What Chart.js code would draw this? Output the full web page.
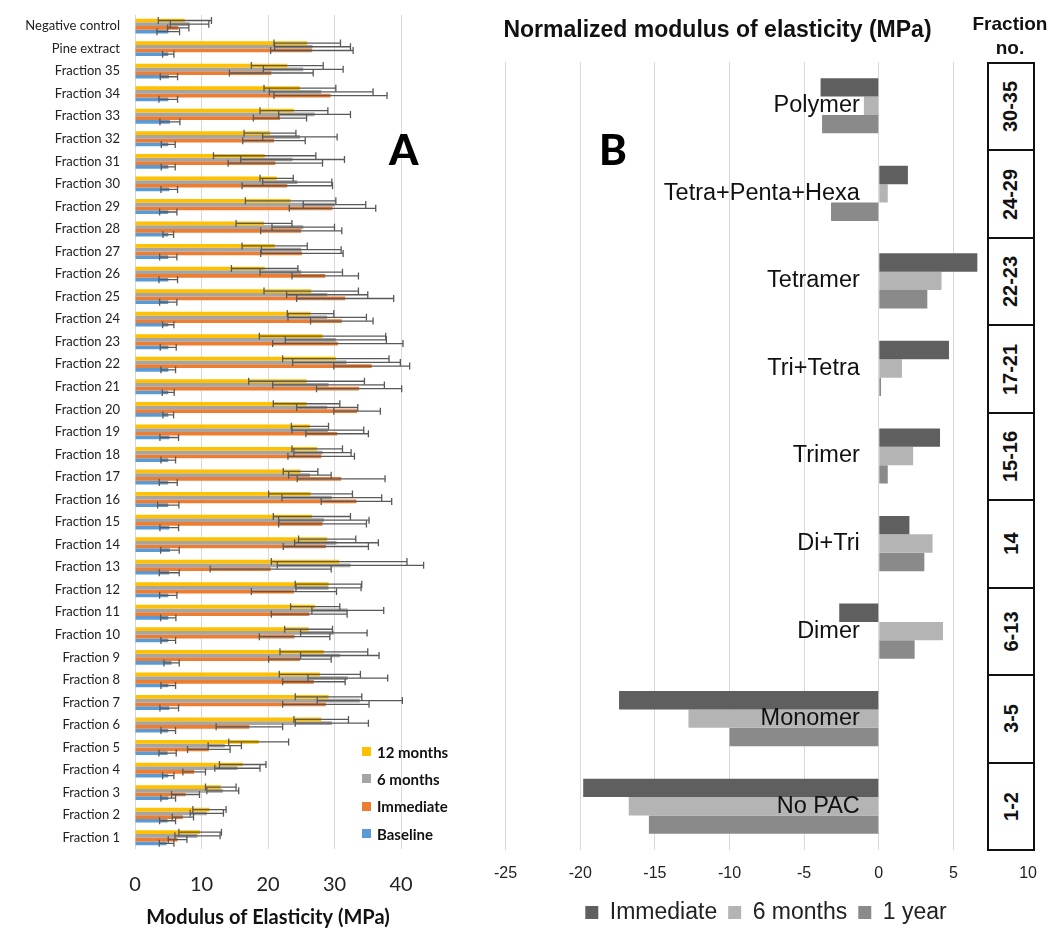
<!DOCTYPE html>
<html>
<head>
<meta charset="utf-8">
<script src="https://cdn.jsdelivr.net/npm/chart.js@4.4.1/dist/chart.umd.min.js"></script>
<style>
  body { margin: 0; width: 1051px; height: 934px; position: relative; background: #fff; overflow: hidden; }
  .box { position: absolute; }
  #wrapA { left: 0; top: 0; width: 480px; height: 934px; }
  #wrapB { left: 480px; top: 0; width: 571px; height: 934px; }
  .panel-letter { position: absolute; font-family: Lato, sans-serif; font-weight: 900; font-size: 42px; color: #000; line-height: 1; }
  #legendA { position: absolute; left: 362px; top: 738px; font-family: Lato, sans-serif; font-weight: 700; font-size: 15px; color: #111; }
  #legendA div { height: 27.3px; display: flex; align-items: center; }
  #legendA span.sw { display: inline-block; width: 9px; height: 9px; margin-right: 6px; }
  #titleB { position: absolute; left: 480px; width: 475px; top: 16px; text-align: center; font-family: "Liberation Sans", Arial, sans-serif; font-weight: 700; font-size: 23px; color: #111; }
  #fracHead { position: absolute; left: 962px; width: 96px; top: 12px; text-align: center; font-family: "Liberation Sans", Arial, sans-serif; font-weight: 700; font-size: 19px; line-height: 24px; color: #111; }
  #fracTable { position: absolute; left: 987px; top: 62px; width: 44px; height: 785px; border: 2px solid #111; background: #fff; display: flex; flex-direction: column; }
  #fracTable div { flex: 1; border-bottom: 2px solid #111; display: flex; align-items: center; justify-content: center; font-family: "Liberation Sans", Arial, sans-serif; font-weight: 700; font-size: 20px; color: #111; }
  #fracTable div:last-child { border-bottom: none; }
  #fracTable span { transform: rotate(-90deg); white-space: nowrap; }
</style>
</head>
<body>
<div class="box" id="wrapA"><canvas id="chartA"></canvas></div>
<div class="box" id="wrapB"><canvas id="chartB"></canvas></div>
<div class="panel-letter" style="left:389px; top:128px;">A</div>
<div class="panel-letter" style="left:599px; top:128px;">B</div>
<div id="legendA"></div>
<div id="titleB">Normalized modulus of elasticity (MPa)</div>
<div id="fracHead">Fraction<br>no.</div>
<div id="fracTable"></div>
<script>
// Panel A: modulus of elasticity per fraction (MPa), with SD
const categoriesA = ['Negative control', 'Pine extract',
  'Fraction 35', 'Fraction 34', 'Fraction 33', 'Fraction 32', 'Fraction 31', 'Fraction 30',
  'Fraction 29', 'Fraction 28', 'Fraction 27', 'Fraction 26', 'Fraction 25', 'Fraction 24',
  'Fraction 23', 'Fraction 22', 'Fraction 21', 'Fraction 20', 'Fraction 19', 'Fraction 18',
  'Fraction 17', 'Fraction 16', 'Fraction 15', 'Fraction 14', 'Fraction 13', 'Fraction 12',
  'Fraction 11', 'Fraction 10', 'Fraction 9', 'Fraction 8', 'Fraction 7', 'Fraction 6',
  'Fraction 5', 'Fraction 4', 'Fraction 3', 'Fraction 2', 'Fraction 1'];

const months12 = [7.5, 25.9, 22.9, 24.8, 23.9, 20.3, 19.5, 21.3, 23.4, 19.4, 21.0, 19.5, 26.5, 26.4,
  28.2, 30.2, 25.8, 25.8, 26.3, 27.4, 24.9, 26.4, 26.6, 28.9, 30.7, 29.1, 27.1, 26.1, 28.4, 27.8,
  29.1, 28.0, 18.6, 16.2, 12.9, 11.2, 9.8];
const months12Err = [4.0, 5.0, 5.4, 5.4, 5.1, 3.9, 7.7, 2.5, 6.8, 4.2, 4.9, 5.0, 7.1, 3.5,
  9.5, 8.0, 8.7, 5.0, 2.8, 3.8, 2.6, 6.3, 5.8, 4.3, 10.2, 5.0, 3.7, 3.6, 6.6, 6.1,
  5.0, 4.1, 4.5, 3.5, 2.3, 2.5, 3.2];

const months6 = [8.2, 26.7, 25.3, 28.0, 27.0, 24.8, 23.7, 24.4, 30.0, 25.3, 25.0, 25.0, 28.9, 28.9,
  30.2, 31.8, 29.1, 28.9, 29.0, 28.2, 26.3, 29.6, 28.4, 30.3, 32.4, 29.1, 32.0, 29.9, 30.8, 32.0,
  33.8, 29.6, 13.5, 15.4, 13.2, 10.8, 9.4];
const months6Err = [2.9, 5.7, 6.0, 7.8, 5.4, 5.6, 7.8, 5.2, 4.7, 4.7, 6.0, 6.2, 6.1, 5.9,
  7.6, 8.1, 8.4, 4.6, 5.4, 4.3, 3.2, 7.5, 6.8, 6.3, 11.0, 4.9, 5.4, 5.0, 5.9, 6.0,
  6.4, 5.5, 2.5, 3.4, 2.4, 2.5, 3.4];

const immediate = [6.5, 26.6, 20.5, 29.4, 21.8, 20.9, 21.1, 22.9, 29.7, 25.0, 25.1, 28.6, 31.6, 31.1,
  30.5, 35.6, 33.7, 33.4, 30.4, 28.0, 31.0, 33.3, 28.2, 28.7, 20.4, 23.9, 26.2, 24.0, 24.8, 26.9,
  28.7, 17.2, 11.1, 8.9, 7.6, 7.2, 6.4];
const immediateErr = [1.6, 6.2, 6.3, 8.5, 4.0, 4.7, 7.1, 6.8, 6.5, 6.1, 6.2, 5.0, 7.3, 4.7,
  9.8, 5.7, 6.4, 3.5, 4.7, 5.0, 6.6, 5.3, 6.6, 6.4, 9.1, 6.4, 5.7, 5.3, 4.7, 4.7,
  6.5, 5.0, 3.2, 1.7, 2.1, 1.6, 1.4];

const baseline = [5.0, 5.0, 5.1, 5.0, 5.25, 5.0, 5.0, 5.15, 5.0, 5.0, 5.0, 5.0, 5.0, 5.0,
  5.0, 5.0, 5.0, 5.0, 5.15, 5.0, 5.0, 5.0, 5.15, 5.25, 5.15, 5.0, 5.0, 5.0, 5.5, 5.0,
  5.15, 5.0, 4.9, 5.0, 5.0, 4.9, 4.75];
const baselineErr = [1.7, 0.85, 1.3, 1.4, 1.5, 1.05, 1.05, 1.25, 1.3, 0.8, 1.3, 1.4, 1.3, 0.85,
  1.2, 1.1, 0.9, 0.8, 1.4, 1.1, 1.35, 1.6, 1.4, 1.4, 1.5, 1.3, 1.15, 1.1, 1.15, 1.1,
  1.4, 1.1, 1.3, 0.85, 1.1, 1.2, 1.1];

const xTicksA = [0, 10, 20, 30, 40];

// Panel B: normalized modulus by PAC group
const categoriesB = ['Polymer', 'Tetra+Penta+Hexa', 'Tetramer', 'Tri+Tetra', 'Trimer', 'Di+Tri', 'Dimer', 'Monomer', 'No PAC'];
const immediateB = [-3.9, 1.95, 6.6, 4.7, 4.1, 2.05, -2.65, -17.4, -19.8];
const sixMonthsB = [-1.0, 0.6, 4.2, 1.55, 2.3, 3.6, 4.3, -12.75, -16.75];
const oneYearB = [-3.8, -3.2, 3.25, 0.15, 0.6, 3.05, 2.4, -10.0, -15.4];
const fractionNos = ['30-35', '24-29', '22-23', '17-21', '15-16', '14', '6-13', '3-5', '1-2'];

const seriesA = [
  { label: '12 months', data: months12, errors: months12Err, color: '#FFC000' },
  { label: '6 months', data: months6, errors: months6Err, color: '#A5A5A5' },
  { label: 'Immediate', data: immediate, errors: immediateErr, color: '#ED7D31' },
  { label: 'Baseline', data: baseline, errors: baselineErr, color: '#5B9BD5' }
];

// legend for panel A (sits inside the plot)
document.getElementById('legendA').innerHTML = seriesA
  .map(s => `<div><span class="sw" style="background:${s.color}"></span>${s.label}</div>`).join('');

// fraction number table beside panel B
document.getElementById('fracTable').innerHTML = fractionNos
  .map(f => `<div><span>${f}</span></div>`).join('');

const errorBars = {
  id: 'errorBars',
  afterDatasetsDraw(chart) {
    const ctx = chart.ctx;
    const xs = chart.scales.x;
    ctx.save();
    ctx.strokeStyle = '#595959';
    ctx.lineWidth = 1.3;
    chart.data.datasets.forEach((ds, i) => {
      const meta = chart.getDatasetMeta(i);
      meta.data.forEach((bar, j) => {
        const lo = xs.getPixelForValue(ds.data[j] - ds.errors[j]);
        const hi = xs.getPixelForValue(ds.data[j] + ds.errors[j]);
        const y = bar.y;
        const h = 3.5;
        ctx.beginPath();
        ctx.moveTo(lo, y); ctx.lineTo(hi, y);
        ctx.moveTo(lo, y - h); ctx.lineTo(lo, y + h);
        ctx.moveTo(hi, y - h); ctx.lineTo(hi, y + h);
        ctx.stroke();
      });
    });
    ctx.restore();
  }
};

new Chart(document.getElementById('chartA'), {
  type: 'bar',
  data: {
    labels: categoriesA,
    datasets: seriesA.map(s => ({
      label: s.label,
      data: s.data,
      errors: s.errors,
      backgroundColor: s.color,
      borderWidth: 0,
      categoryPercentage: 0.66,
      barPercentage: 1
    }))
  },
  options: {
    indexAxis: 'y',
    responsive: true,
    maintainAspectRatio: false,
    animation: false,
    layout: { padding: { top: 10, right: 79, left: 0, bottom: 0 } },
    plugins: {
      legend: { display: false },
      tooltip: { enabled: false }
    },
    scales: {
      y: {
        grid: { display: false },
        border: { display: false },
        ticks: {
          autoSkip: false,
          padding: 7,
          color: '#222',
          font: { family: 'Lato', size: 13 }
        },
        afterFit: (scale) => { scale.width = 135; }
      },
      x: {
        min: 0,
        max: 40,
        afterBuildTicks: (scale) => { scale.ticks = xTicksA.map(v => ({ value: v })); },
        grid: { color: '#d9d9d9', drawTicks: false },
        border: { display: false },
        ticks: {
          padding: 24,
          color: '#222',
          font: { family: 'Lato', size: 20 }
        },
        title: {
          display: true,
          text: 'Modulus of Elasticity (MPa)',
          color: '#111',
          font: { family: 'Lato', size: 20, weight: 'bold' },
          padding: { top: 6, bottom: 4 }
        },
        afterFit: (scale) => { scale.height = 85; }
      }
    }
  },
  plugins: [errorBars]
});

const groupLabels = {
  id: 'groupLabels',
  afterDatasetsDraw(chart) {
    const { ctx, scales: { x, y } } = chart;
    const x0 = x.getPixelForValue(0);
    ctx.save();
    ctx.font = '23.5px "Liberation Sans", Arial, sans-serif';
    ctx.fillStyle = '#111';
    ctx.textAlign = 'right';
    ctx.textBaseline = 'middle';
    categoriesB.forEach((c, i) => ctx.fillText(c, x0 - 19, y.getPixelForValue(i)));
    ctx.restore();
  }
};

new Chart(document.getElementById('chartB'), {
  type: 'bar',
  data: {
    labels: categoriesB,
    datasets: [
      { label: 'Immediate', data: immediateB, backgroundColor: '#5f5f5f' },
      { label: '6 months', data: sixMonthsB, backgroundColor: '#b4b4b4' },
      { label: '1 year', data: oneYearB, backgroundColor: '#8a8a8a' }
    ].map(d => ({ ...d, borderWidth: 0, categoryPercentage: 0.63, barPercentage: 1 }))
  },
  options: {
    indexAxis: 'y',
    responsive: true,
    maintainAspectRatio: false,
    animation: false,
    layout: { padding: { top: 62, right: 7, left: 8, bottom: 0 } },
    plugins: {
      legend: {
        position: 'bottom',
        labels: {
          boxWidth: 13,
          boxHeight: 13,
          padding: 11,
          color: '#222',
          font: { family: 'Liberation Sans', size: 23 }
        }
      },
      tooltip: { enabled: false }
    },
    scales: {
      y: { display: false },
      x: {
        min: -25,
        max: 10,
        grid: { color: '#d9d9d9', drawTicks: false },
        border: { display: false },
        ticks: {
          stepSize: 5,
          padding: 14,
          color: '#222',
          font: { family: 'Liberation Sans', size: 16 }
        },
        afterFit: (scale) => { scale.height = 40; }
      }
    }
  },
  plugins: [groupLabels]
});
</script>
</body>
</html>
